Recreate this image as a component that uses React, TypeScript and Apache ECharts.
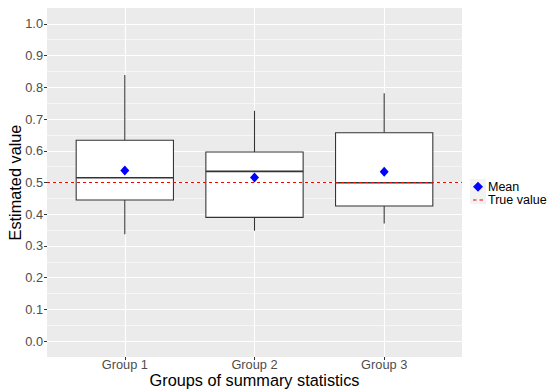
import React, { useEffect, useRef } from 'react';
import * as echarts from 'echarts';

const categories = ['Group 1', 'Group 2', 'Group 3'];
const whiskerLow = [0.337, 0.348, 0.371];
const q1 = [0.445, 0.39, 0.426];
const median = [0.515, 0.535, 0.499];
const q3 = [0.633, 0.596, 0.657];
const whiskerHigh = [0.839, 0.726, 0.781];
const means = [0.538, 0.516, 0.534];
const trueValue = 0.5;
const yMajorTicks = [0, 0.1, 0.2, 0.3, 0.4, 0.5, 0.6, 0.7, 0.8, 0.9, 1.0];
const yMinorTicks = [0.05, 0.15, 0.25, 0.35, 0.45, 0.55, 0.65, 0.75, 0.85, 0.95];
const xPositions = [1, 2, 3];

const FONT = '"Liberation Sans", Arial, sans-serif';

export default function App() {
  const ref = useRef<HTMLDivElement>(null);
  useEffect(() => {
    if (!ref.current) return;
    const chart = echarts.init(ref.current, null, { renderer: 'svg' });
    const boxData = categories.map((c, i) => [
      xPositions[i], whiskerLow[i], q1[i], median[i], q3[i], whiskerHigh[i],
    ]);
    const meanData = categories.map((c, i) => [xPositions[i], means[i]]);
    const halfW = 0.375;
    chart.setOption({
      animation: false,
      backgroundColor: '#ffffff',
      textStyle: { fontFamily: FONT },
      grid: {
        left: 47, right: 86, top: 8, bottom: 32,
        outerBoundsMode: 'none',
        containLabel: false,
        show: true, backgroundColor: '#EBEBEB', borderWidth: 0,
      },
      graphic: [
        {
          type: 'rect',
          left: 470,
          top: 179,
          shape: { width: 16, height: 25 },
          style: { fill: '#F2F2F2' },
          z: -1,
        },
      ],
      legend: {
        orient: 'vertical',
        left: 473,
        top: 180.3,
        padding: 0,
        itemWidth: 10,
        itemHeight: 10,
        itemGap: 0.2,
        itemTextGap: 4,
        textStyle: { fontSize: 12.5, lineHeight: 11.5, color: '#000000', fontFamily: FONT },
        data: [
          { name: 'Mean', icon: 'diamond', itemStyle: { color: '#0000FF', opacity: 1 } },
          {
            name: 'True value',
            icon: 'path://M0,0H3.5V1H0Z M6.5,0H10V1H6.5Z',
            itemStyle: { color: '#FF0000', opacity: 1 },
          },
        ],
      },
      xAxis: {
        type: 'value',
        min: 0.4,
        max: 3.6,
        name: 'Groups of summary statistics',
        nameLocation: 'middle',
        nameGap: 15,
        nameMoveOverlap: false,
        nameTextStyle: { fontSize: 16.3, lineHeight: 16, color: '#000000', fontFamily: FONT },
        axisLine: { show: false, onZero: false },
        axisTick: { show: true, length: 3, customValues: xPositions, lineStyle: { color: '#333333', width: 1 } },
        axisLabel: {
          customValues: xPositions,
          margin: 1,
          fontSize: 12.8,
          lineHeight: 12,
          color: '#4D4D4D',
          fontFamily: FONT,
          formatter: (v: number) => categories[Math.round(v) - 1] ?? '',
        },
        splitLine: { show: true, lineStyle: { color: '#FFFFFF', width: 1.1 } },
      },
      yAxis: [
        {
          type: 'value',
          min: -0.05,
          max: 1.05,
          name: 'Estimated value',
          nameLocation: 'middle',
          nameGap: 24,
          nameMoveOverlap: false,
          nameTextStyle: { fontSize: 16.3, color: '#000000', fontFamily: FONT },
          axisLine: { show: false, onZero: false },
          axisTick: { show: true, length: 3, customValues: yMajorTicks, lineStyle: { color: '#333333', width: 1 } },
          axisLabel: {
            customValues: yMajorTicks,
            margin: 4,
            fontSize: 12.8,
            color: '#4D4D4D',
            fontFamily: FONT,
            formatter: (v: number) => v.toFixed(1),
          },
          splitLine: { show: true, lineStyle: { color: '#FFFFFF', width: 1.1 } },
        },
        {
          type: 'value',
          min: -0.05,
          max: 1.05,
          position: 'left',
          axisLine: { show: false, onZero: false },
          axisTick: { show: false, customValues: yMinorTicks },
          axisLabel: { show: false, customValues: yMinorTicks },
          splitLine: { show: true, lineStyle: { color: '#FFFFFF', width: 0.55 } },
        },
      ],
      series: [
        {
          type: 'custom',
          name: 'box',
          data: boxData,
          encode: { x: 0, y: [1, 2, 3, 4, 5] },
          renderItem: (params: any, api: any) => {
            const x = api.value(0);
            const lo = api.value(1);
            const b1 = api.value(2);
            const md = api.value(3);
            const b3 = api.value(4);
            const hi = api.value(5);
            const tl = api.coord([x - halfW, b3]);
            const br = api.coord([x + halfW, b1]);
            const mL = api.coord([x - halfW, md]);
            const mR = api.coord([x + halfW, md]);
            const cHi = api.coord([x, hi]);
            const cB3 = api.coord([x, b3]);
            const cB1 = api.coord([x, b1]);
            const cLo = api.coord([x, lo]);
            const stroke = { stroke: '#333333', lineWidth: 1.07 };
            return {
              type: 'group',
              children: [
                { type: 'line', shape: { x1: cHi[0], y1: cHi[1], x2: cB3[0], y2: cB3[1] }, style: stroke },
                { type: 'line', shape: { x1: cB1[0], y1: cB1[1], x2: cLo[0], y2: cLo[1] }, style: stroke },
                {
                  type: 'rect',
                  shape: { x: tl[0], y: tl[1], width: br[0] - tl[0], height: br[1] - tl[1] },
                  style: { fill: '#FFFFFF', stroke: '#333333', lineWidth: 1.07 },
                },
                { type: 'line', shape: { x1: mL[0], y1: mL[1], x2: mR[0], y2: mR[1] }, style: { stroke: '#333333', lineWidth: 1.6 } },
              ],
            };
          },
          z: 2,
        },
        {
          type: 'line',
          name: 'True value',
          data: [[0.4, trueValue], [3.6, trueValue]],
          symbol: 'none',
          lineStyle: { color: '#FF0000', type: [3, 3], width: 1.07 },
          itemStyle: { color: '#FF0000' },
          z: 3,
        },
        {
          type: 'scatter',
          name: 'Mean',
          data: meanData,
          symbol: 'diamond',
          symbolSize: [9, 10],
          itemStyle: { color: '#0000FF', opacity: 1 },
          z: 4,
        },
      ],
    });
    return () => chart.dispose();
  }, []);
  return <div ref={ref} style={{ position: 'fixed', left: 0, top: 0, width: 548, height: 389 }} />;
}
